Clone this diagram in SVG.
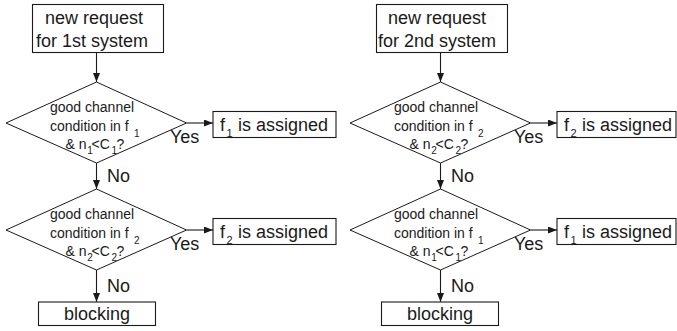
<svg xmlns="http://www.w3.org/2000/svg" width="677" height="331" viewBox="0 0 677 331">
<defs>
<marker id="ah" markerUnits="userSpaceOnUse" markerWidth="9" markerHeight="7" refX="9" refY="3.5" orient="auto">
<path d="M0,0 L9,3.5 L0,7 z" fill="#1a1a1a"/>
</marker>
</defs>
<style>
.box{fill:#fff;stroke:#1a1a1a;stroke-width:1.1}
.dia{fill:#fff;stroke:#1a1a1a;stroke-width:1}
.edge{stroke:#1a1a1a;stroke-width:1.1;fill:none;marker-end:url(#ah)}
text{font-family:"Liberation Sans",Arial,sans-serif;fill:#1a1a1a}
.big{font-size:18px}
.small{font-size:14px}
.sub{font-size:10px}
.bsub{font-size:11px}
</style>
<rect width="677" height="331" fill="#fff"/>
<g id="connectors">
<line class="edge" x1="96.5" y1="52.5" x2="96.5" y2="82"/>
<line class="edge" x1="96.5" y1="163" x2="96.5" y2="189"/>
<line class="edge" x1="96.5" y1="270" x2="96.5" y2="302"/>
<line class="edge" x1="186.5" y1="123" x2="213" y2="123"/>
<line class="edge" x1="186.5" y1="230" x2="213" y2="230"/>
<line class="edge" x1="440.5" y1="52.5" x2="440.5" y2="82"/>
<line class="edge" x1="440.5" y1="163" x2="440.5" y2="189"/>
<line class="edge" x1="440.5" y1="270" x2="440.5" y2="302"/>
<line class="edge" x1="530.5" y1="123" x2="557" y2="123"/>
<line class="edge" x1="530.5" y1="230" x2="557" y2="230"/>
<text class="big" x="170" y="143">Yes</text>
<text class="big" x="170" y="250">Yes</text>
<text class="big" x="107" y="182">No</text>
<text class="big" x="107" y="291.5">No</text>
<text class="big" x="514" y="143">Yes</text>
<text class="big" x="514" y="250">Yes</text>
<text class="big" x="451" y="182">No</text>
<text class="big" x="451" y="291.5">No</text>
</g>
<g id="req1">
<rect class="box" x="32.5" y="4.5" width="131" height="48"/>
<text class="big" x="45" y="24">new request</text>
<text class="big" x="36" y="46.5">for 1st system</text>
</g>
<g id="dec1a">
<polygon class="dia" points="6,123 96.5,82 186.5,123 96.5,163"/>
<text class="small" x="50" y="111.5">good channel</text>
<text class="small" x="50" y="130.5">condition in f<tspan class="sub" x="134" y="137">1</tspan></text>
<text class="small" x="65.5" y="149">&amp; n<tspan class="sub" x="87.3" y="153.5">1</tspan><tspan x="91.5" y="149">&lt;C</tspan><tspan class="sub" x="111.5" y="153.5">1</tspan><tspan x="116.5" y="149">?</tspan></text>
</g>
<g id="assign1a">
<rect class="box" x="213" y="111.5" width="123" height="26"/>
<text class="big" x="220" y="131">f<tspan class="bsub" x="226.5" y="136.5">1</tspan><tspan x="233" y="131"> is assigned</tspan></text>
</g>
<g id="dec1b">
<polygon class="dia" points="6,230 96.5,189 186.5,230 96.5,270"/>
<text class="small" x="50" y="218.5">good channel</text>
<text class="small" x="50" y="237.5">condition in f<tspan class="sub" x="134" y="244">2</tspan></text>
<text class="small" x="65.5" y="256">&amp; n<tspan class="sub" x="87.3" y="260.5">2</tspan><tspan x="91.5" y="256">&lt;C</tspan><tspan class="sub" x="111.5" y="260.5">2</tspan><tspan x="116.5" y="256">?</tspan></text>
</g>
<g id="assign1b">
<rect class="box" x="213" y="218.5" width="123" height="26"/>
<text class="big" x="220" y="238">f<tspan class="bsub" x="226.5" y="243.5">2</tspan><tspan x="233" y="238"> is assigned</tspan></text>
</g>
<g id="block1">
<rect class="box" x="38.5" y="302" width="117" height="23.5"/>
<text class="big" x="97" y="320" text-anchor="middle">blocking</text>
</g>
<g id="req2">
<rect class="box" x="376.5" y="4.5" width="131" height="48"/>
<text class="big" x="388" y="24">new request</text>
<text class="big" x="378" y="46.5">for 2nd system</text>
</g>
<g id="dec2a">
<polygon class="dia" points="350,123 440.5,82 530.5,123 440.5,163"/>
<text class="small" x="394" y="111.5">good channel</text>
<text class="small" x="394" y="130.5">condition in f<tspan class="sub" x="478" y="137">2</tspan></text>
<text class="small" x="409.5" y="149">&amp; n<tspan class="sub" x="431.3" y="153.5">2</tspan><tspan x="435.5" y="149">&lt;C</tspan><tspan class="sub" x="455.5" y="153.5">2</tspan><tspan x="460.5" y="149">?</tspan></text>
</g>
<g id="assign2a">
<rect class="box" x="557" y="111.5" width="119" height="26"/>
<text class="big" x="564" y="131">f<tspan class="bsub" x="570.5" y="136.5">2</tspan><tspan x="577" y="131"> is assigned</tspan></text>
</g>
<g id="dec2b">
<polygon class="dia" points="350,230 440.5,189 530.5,230 440.5,270"/>
<text class="small" x="394" y="218.5">good channel</text>
<text class="small" x="394" y="237.5">condition in f<tspan class="sub" x="478" y="244">1</tspan></text>
<text class="small" x="409.5" y="256">&amp; n<tspan class="sub" x="431.3" y="260.5">1</tspan><tspan x="435.5" y="256">&lt;C</tspan><tspan class="sub" x="455.5" y="260.5">1</tspan><tspan x="460.5" y="256">?</tspan></text>
</g>
<g id="assign2b">
<rect class="box" x="557" y="218.5" width="119" height="26"/>
<text class="big" x="564" y="238">f<tspan class="bsub" x="570.5" y="243.5">1</tspan><tspan x="577" y="238"> is assigned</tspan></text>
</g>
<g id="block2">
<rect class="box" x="381.5" y="302" width="117" height="23.5"/>
<text class="big" x="440" y="320" text-anchor="middle">blocking</text>
</g>
</svg>
